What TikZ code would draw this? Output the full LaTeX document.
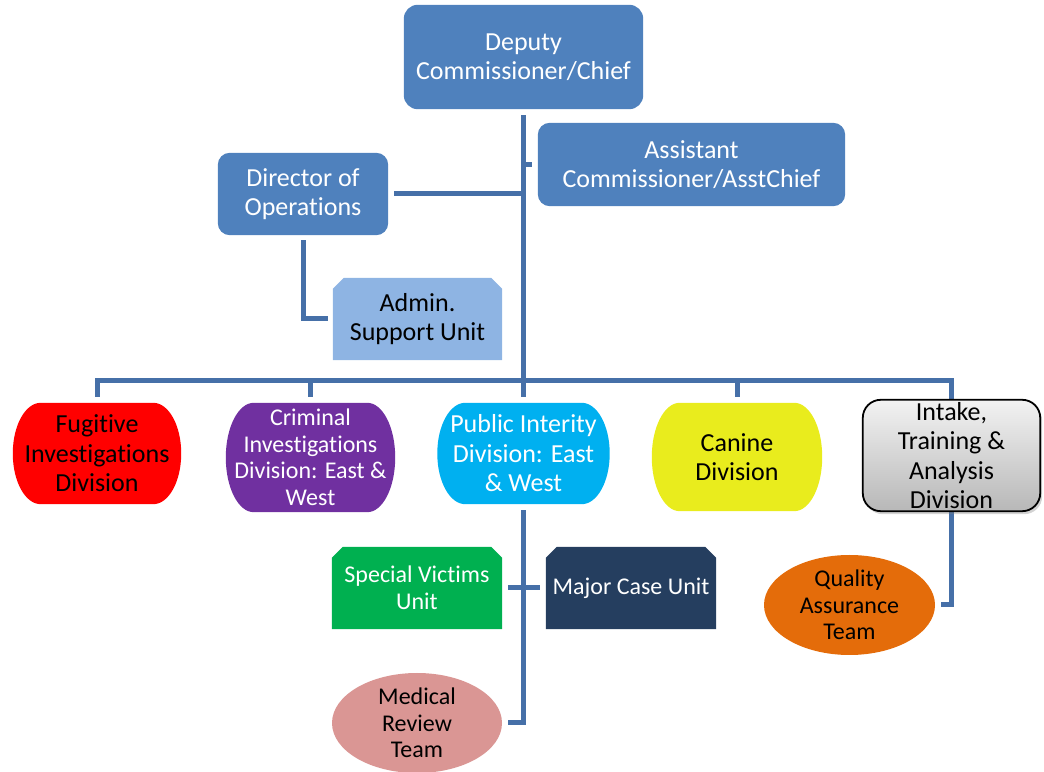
\documentclass[tikz,border=0pt]{standalone}
\usepackage{fontspec}
\setmainfont[RawFeature={-liga,-clig,-calt,-dlig}]{Carlito}
\usetikzlibrary{calc,backgrounds,shadows}
\definecolor{office}{HTML}{4F81BD}
\definecolor{lightb}{HTML}{8EB4E3}
\definecolor{linec}{HTML}{4670A8}
\definecolor{fugc}{HTML}{FF0000}
\definecolor{cric}{HTML}{7030A0}
\definecolor{pubc}{HTML}{00B0F0}
\definecolor{canc}{HTML}{E9EC1D}
\definecolor{svc}{HTML}{00B050}
\definecolor{mcc}{HTML}{253E5F}
\definecolor{medc}{HTML}{DA9694}
\definecolor{qac}{HTML}{E46C0A}
\pgfdeclarelayer{lines}
\pgfdeclarelayer{shapes}
\pgfsetlayers{lines,shapes,main}
\newcommand{\snipbox}[2]{%
  \fill[#2] (#1.south west) -- ($(#1.north west)+(0,-11)$) -- ($(#1.north west)+(11,0)$)
    -- ($(#1.north east)+(-11,0)$) -- ($(#1.north east)+(0,-11)$) -- (#1.south east) -- cycle;}
\newcommand{\pillbox}[4]{%
  \fill[#2] ($(#1.north west)+(#3,0)$) -- ($(#1.north east)+(-#3,0)$)
    arc[start angle=90,end angle=0,x radius=#3pt,y radius=#4pt]
    -- ($(#1.south east)+(0,#4)$)
    arc[start angle=0,end angle=-90,x radius=#3pt,y radius=#4pt]
    -- ($(#1.south west)+(#3,0)$)
    arc[start angle=270,end angle=180,x radius=#3pt,y radius=#4pt]
    -- ($(#1.north west)+(0,-#4)$)
    arc[start angle=180,end angle=90,x radius=#3pt,y radius=#4pt] -- cycle;}
\begin{document}
\begin{tikzpicture}[x=1pt,y=1pt,
  big/.style={font=\fontsize{26}{29.5}\selectfont, align=center, inner sep=0pt, shape=rectangle},
  small/.style={font=\fontsize{24}{26.5}\selectfont, align=center, inner sep=0pt, shape=rectangle},
  wt/.style={text=white},
  bk/.style={text=black},
  conn/.style={draw=linec, line width=5pt, line join=miter}]
\useasboundingbox (0,0) rectangle (1044,771);
% nodes (text)
\node[big,wt,minimum width=239,minimum height=104] (dep) at (523.5,714) {Deputy\\Commissioner/Chief};
\node[big,wt,minimum width=307,minimum height=83] (asst) at (691.5,606.5) {Assistant\\Commissioner/AsstChief};
\node[big,wt,minimum width=170,minimum height=82] (dir) at (303,577) {Director of\\Operations};
\node[big,bk,minimum width=169,minimum height=82] (adm) at (417.5,452) {Admin.\\Support Unit};
\node[big,bk,minimum width=168,minimum height=101] (fug) at (97,317.5) {Fugitive\\Investigations\\Division};
\node[small,wt,minimum width=169,minimum height=109] (cri) at (310.5,313.5) {Criminal\\Investigations\\Division: East \&\\West};
\node[big,wt,minimum width=172,minimum height=101] (pub) at (523.5,317.5) {Public Interity\\Division: East\\\& West};
\node[big,bk,minimum width=170,minimum height=108] (can) at (737,314) {Canine\\Division};
\node[big,bk,minimum width=177,minimum height=111] (int) at (951.5,315.5) {Intake,\\Training \&\\Analysis\\Division};
\node[small,wt,minimum width=170,minimum height=82] (sv) at (417,183) {Special Victims\\Unit};
\node[small,wt,minimum width=170,minimum height=82] (mc) at (631,183) {Major Case Unit};
\node[small,bk,minimum width=170,minimum height=100] (med) at (417,48) {Medical\\Review\\Team};
\node[small,bk,minimum width=171,minimum height=100] (qa) at (849.5,166) {Quality\\Assurance\\Team};
\coordinate (bar) at (523.5,390);
% shapes
\begin{pgfonlayer}{shapes}
  \fill[office, rounded corners=14pt] (dep.south west) rectangle (dep.north east);
  \fill[office, rounded corners=12pt] (asst.south west) rectangle (asst.north east);
  \fill[office, rounded corners=12pt] (dir.south west) rectangle (dir.north east);
  \snipbox{adm}{lightb}
  \pillbox{fug}{fugc}{28}{50.5}
  \pillbox{cri}{cric}{28}{54.5}
  \pillbox{pub}{pubc}{28}{50.5}
  \pillbox{can}{canc}{28}{54}
  \path[draw=black, line width=1.8pt, rounded corners=18pt,
        top color=white!95!black, bottom color=white!72!black,
        drop shadow={opacity=0.35, shadow xshift=2pt, shadow yshift=-3pt}]
        (int.south west) rectangle (int.north east);
  \snipbox{sv}{svc}
  \snipbox{mc}{mcc}
  \fill[medc] (med.center) ellipse[x radius=85pt, y radius=50pt];
  \fill[qac] (qa.center) ellipse[x radius=85.5pt, y radius=50pt];
\end{pgfonlayer}
% connectors
\begin{pgfonlayer}{lines}
  \draw[conn, shorten <=6pt, shorten >=6pt] (dep.south) -- (dep.south |- pub.north);
  \draw[conn, shorten >=6pt] (asst.west -| dep.south) -- (asst.west);
  \draw[conn, shorten <=6pt] (dir.east) -- (dir.east -| dep.south);
  \draw[conn, shorten <=5pt, shorten >=5pt] (dir.south) -- (dir.south |- adm.west) -- (adm.west);
  \draw[conn, line cap=rect] (fug.north |- bar) -- (int.north |- bar);
  \draw[conn, shorten >=6pt] (fug.north |- bar) -- (fug.north);
  \draw[conn, shorten >=6pt] (cri.north |- bar) -- (cri.north);
  \draw[conn, shorten >=6pt] (can.north |- bar) -- (can.north);
  \draw[conn, shorten >=6pt] (int.north |- bar) -- (int.north |- qa.east) -- (qa.east);
  \draw[conn, shorten <=6pt, shorten >=6pt] (pub.south) -- (pub.south |- med.east) -- (med.east);
  \draw[conn, shorten <=6pt, shorten >=6pt] (sv.east) -- (mc.west);
\end{pgfonlayer}
\end{tikzpicture}
\end{document}
